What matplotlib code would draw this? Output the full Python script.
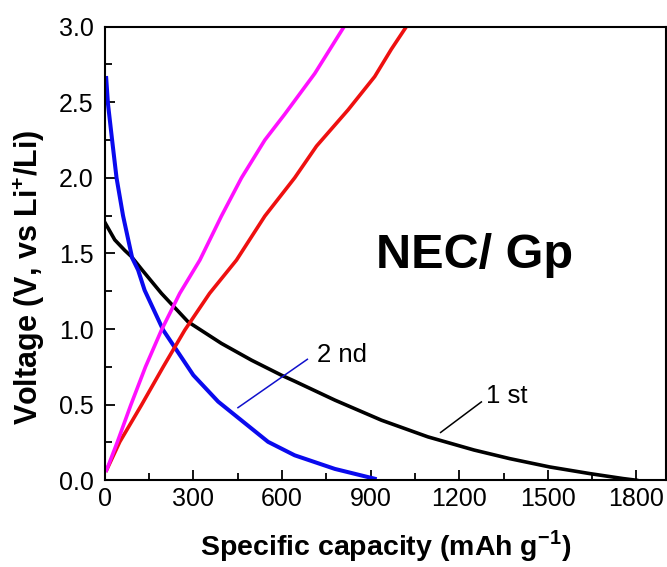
import matplotlib
matplotlib.use('Agg')
import matplotlib.pyplot as plt
from matplotlib.ticker import MultipleLocator, FormatStrFormatter

plt.rcParams['font.family'] = ['Liberation Sans', 'DejaVu Sans']
plt.rcParams['mathtext.fontset'] = 'custom'
plt.rcParams['mathtext.rm'] = 'Liberation Sans'
plt.rcParams['mathtext.bf'] = 'Liberation Sans:bold'

# 1st discharge (black)
cap_1st_dis = [2, 34, 68, 90, 127, 192, 282, 395, 497, 598, 643, 779, 937, 1094, 1250, 1371, 1506, 1642, 1755, 1800]
volt_1st_dis = [1.70, 1.59, 1.52, 1.48, 1.39, 1.236, 1.048, 0.905, 0.794, 0.695, 0.655, 0.53, 0.397, 0.287, 0.20, 0.143, 0.088, 0.044, 0.011, 0.0]

# 2nd discharge (blue)
cap_2nd_dis = [5, 11, 25, 40, 62, 93, 113, 135, 198, 300, 384, 553, 643, 779, 914]
volt_2nd_dis = [2.66, 2.49, 2.25, 2.0, 1.75, 1.47, 1.39, 1.257, 0.993, 0.695, 0.52, 0.254, 0.165, 0.075, 0.01]

# 1st charge (red)
cap_1st_ch = [6, 51, 124, 198, 271, 355, 446, 542, 643, 717, 824, 914, 970, 1021]
volt_1st_ch = [0.066, 0.254, 0.496, 0.75, 0.993, 1.236, 1.456, 1.747, 2.0, 2.21, 2.45, 2.67, 2.85, 3.0]

# 2nd charge (magenta)
cap_2nd_ch = [6, 43, 88, 138, 192, 254, 322, 395, 463, 542, 609, 711, 807]
volt_2nd_ch = [0.066, 0.254, 0.496, 0.75, 0.993, 1.236, 1.456, 1.747, 2.0, 2.25, 2.42, 2.69, 2.99]

fig = plt.figure(figsize=(6.67, 5.67), dpi=100)
ax = fig.add_axes([0.157, 0.153, 0.8415, 0.800])

ax.plot(cap_1st_dis, volt_1st_dis, color='black', lw=2.6)
ax.plot(cap_2nd_dis, volt_2nd_dis, color='#0a0aee', lw=2.9)
ax.plot(cap_1st_ch, volt_1st_ch, color='#ee1010', lw=2.6)
ax.plot(cap_2nd_ch, volt_2nd_ch, color='#ff10ff', lw=2.6)

# leader lines and labels
ax.plot([451, 686], [0.48, 0.80], color='#1010cc', lw=1.1)
ax.text(717, 0.783, '2 nd', fontsize=18.5, va='baseline')
ax.plot([1137, 1275], [0.316, 0.518], color='black', lw=1.1)
ax.text(1292, 0.512, '1 st', fontsize=18.5, va='baseline')

ax.text(920, 1.403, 'NEC/ Gp', fontsize=35, fontweight='bold', va='baseline')

ax.set_xlim(0, 1900)
ax.set_ylim(0, 3.0)
ax.xaxis.set_major_locator(MultipleLocator(300))
ax.xaxis.set_minor_locator(MultipleLocator(150))
ax.yaxis.set_major_locator(MultipleLocator(0.5))
ax.yaxis.set_minor_locator(MultipleLocator(0.25))
ax.yaxis.set_major_formatter(FormatStrFormatter('%.1f'))

ax.tick_params(which='both', direction='in', top=False, right=False, width=1.3, labelsize=18)
ax.tick_params(which='major', length=7.5)
ax.tick_params(which='minor', length=4.8)
ax.tick_params(axis='x', pad=5)
ax.tick_params(axis='y', pad=8)
for sp in ax.spines.values():
    sp.set_linewidth(1.5)

ax.set_xlabel(r'Specific capacity (mAh g$^{\mathregular{-1}}$)', fontsize=20.5, fontweight='bold', labelpad=12)
ax.set_ylabel(r'Voltage (V, vs Li$^{\mathbf{+}}$/Li)', fontsize=22, fontweight='bold')
ax.yaxis.set_label_coords(-0.103, 0.448)

fig.savefig('out.png', dpi=100)
